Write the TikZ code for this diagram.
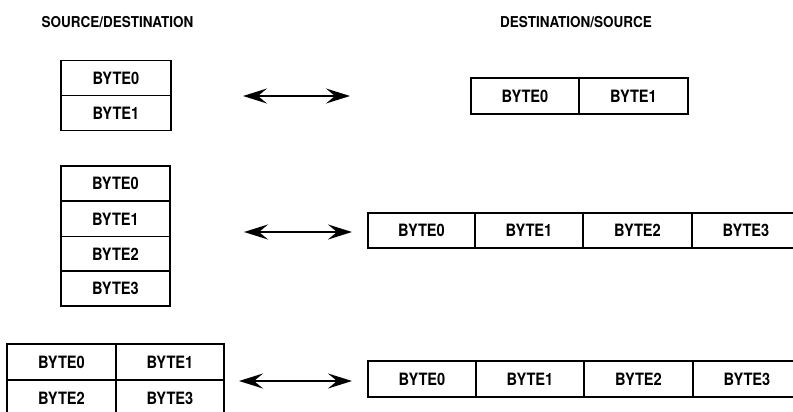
\documentclass[tikz,border=0pt]{standalone}
\usepackage{fontspec}
\setmainfont{TeX Gyre Heros}
\newfontfamily\cellfam[FakeStretch=0.86]{TeX Gyre Heros}
\newfontfamily\headfam[FakeStretch=0.9]{TeX Gyre Heros}
\usetikzlibrary{arrows.meta}
\begin{document}
\begin{tikzpicture}[x=1pt,y=-1pt,
  cellbox/.style={draw,line width=1.8pt,inner sep=0pt,font=\cellfam\bfseries\fontsize{17}{19}\selectfont},
  headtext/.style={inner sep=0pt,font=\headfam\bfseries\fontsize{15}{17}\selectfont},
  dblarrow/.style={line width=2.4pt,{Stealth[length=24pt,width=15pt,inset=9pt]}-{Stealth[length=24pt,width=15pt,inset=9pt]}}]
\useasboundingbox (0,0) rectangle (793,412);
\clip (0,0) rectangle (793,412);
% headers
\node[headtext] (hl) at (117.5,22) {SOURCE/DESTINATION};
\node[headtext] (hr) at (576,22) {DESTINATION/SOURCE};
% group 1
\node[cellbox,minimum width=110pt,minimum height=35pt] (a0) at (116,78) {BYTE0};
\node[cellbox,minimum width=110pt,minimum height=35pt] (a1) at (116,113) {BYTE1};
\node[cellbox,minimum width=108pt,minimum height=36pt] (ra0) at (525,96) {BYTE0};
\node[cellbox,minimum width=109pt,minimum height=36pt] (ra1) at (633.5,96) {BYTE1};
\coordinate (p1l) at (243,96);
\coordinate (p1r) at (350,96);
\draw[dblarrow] (p1l) -- (p1r);
% group 2
\node[cellbox,minimum width=109pt,minimum height=35pt] (b0) at (115.5,183.5) {BYTE0};
\node[cellbox,minimum width=109pt,minimum height=35pt] (b1) at (115.5,219) {BYTE1};
\node[cellbox,minimum width=109pt,minimum height=35pt] (b2) at (115.5,254) {BYTE2};
\node[cellbox,minimum width=109pt,minimum height=35pt] (b3) at (115.5,288.5) {BYTE3};
\node[cellbox,minimum width=107pt,minimum height=35pt] (rb0) at (421.5,230.5) {BYTE0};
\node[cellbox,minimum width=108pt,minimum height=35pt] (rb1) at (529,230.5) {BYTE1};
\node[cellbox,minimum width=109pt,minimum height=35pt] (rb2) at (637.5,230.5) {BYTE2};
\node[cellbox,minimum width=108pt,minimum height=35pt] (rb3) at (746,230.5) {BYTE3};
\coordinate (p2l) at (244,232);
\coordinate (p2r) at (352,232);
\draw[dblarrow] (p2l) -- (p2r);
% group 3
\node[cellbox,minimum width=109pt,minimum height=36pt] (c0) at (61.5,362) {BYTE0};
\node[cellbox,minimum width=108pt,minimum height=36pt] (c1) at (170,362) {BYTE1};
\node[cellbox,minimum width=109pt,minimum height=36pt] (c2) at (61.5,398) {BYTE2};
\node[cellbox,minimum width=108pt,minimum height=36pt] (c3) at (170,398) {BYTE3};
\node[cellbox,minimum width=108pt,minimum height=36pt] (rc0) at (422,379) {BYTE0};
\node[cellbox,minimum width=108pt,minimum height=36pt] (rc1) at (530,379) {BYTE1};
\node[cellbox,minimum width=109pt,minimum height=36pt] (rc2) at (638.5,379) {BYTE2};
\node[cellbox,minimum width=108pt,minimum height=36pt] (rc3) at (747,379) {BYTE3};
\coordinate (p3l) at (239,381);
\coordinate (p3r) at (352,381);
\draw[dblarrow] (p3l) -- (p3r);
\end{tikzpicture}
\end{document}
